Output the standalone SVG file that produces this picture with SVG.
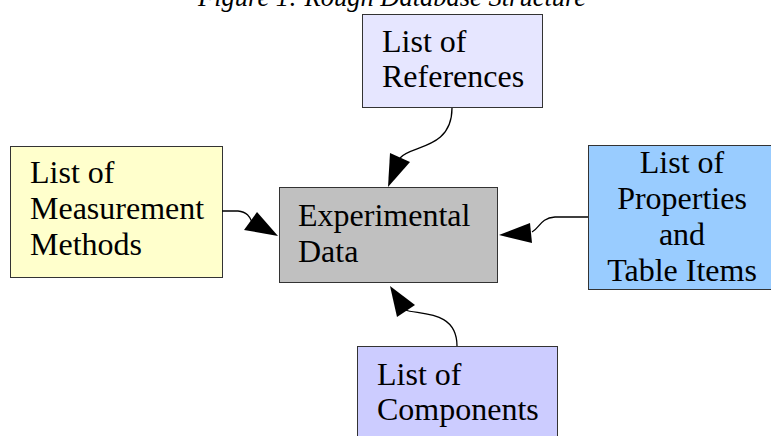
<svg xmlns="http://www.w3.org/2000/svg" width="771" height="436" viewBox="0 0 771 436">
<defs>
<style>
.box{stroke:#333;stroke-width:1}
.t{font-family:"Liberation Serif","Times New Roman",serif;font-size:32px;fill:#000}
.title{font-family:"Liberation Serif","Times New Roman",serif;font-size:26.5px;font-style:italic;fill:#000}
.c{fill:none;stroke:#000;stroke-width:1.3}
.h{fill:#000;stroke:none}
</style>
</defs>
<rect width="771" height="436" fill="#fff"/>
<text class="title" x="198" y="6">Figure 1: Rough Database Structure</text>
<g id="references">
<rect class="box" x="362.5" y="14.5" width="180" height="93" fill="#e6e6ff"/>
<text class="t" x="382" y="52">List of</text>
<text class="t" x="382" y="87">References</text>
</g>
<g id="methods">
<rect class="box" x="10.5" y="146.5" width="212" height="131" fill="#ffffcc"/>
<text class="t" x="30" y="183">List of</text>
<text class="t" x="30" y="219">Measurement</text>
<text class="t" x="30" y="255">Methods</text>
</g>
<g id="experimental">
<rect class="box" x="279.5" y="187.5" width="218" height="95" fill="#c0c0c0"/>
<text class="t" x="298" y="226">Experimental</text>
<text class="t" x="298" y="262">Data</text>
</g>
<g id="properties">
<rect class="box" x="588.5" y="145.5" width="190" height="144" fill="#99ccff"/>
<text class="t" x="682" y="173" text-anchor="middle">List of</text>
<text class="t" x="682" y="209" text-anchor="middle">Properties</text>
<text class="t" x="682" y="245" text-anchor="middle">and</text>
<text class="t" x="682" y="281" text-anchor="middle">Table Items</text>
</g>
<g id="components">
<rect class="box" x="357.5" y="346.5" width="200" height="100" fill="#ccccff"/>
<text class="t" x="377" y="385">List of</text>
<text class="t" x="377" y="420">Components</text>
</g>
<g id="connectors">
<path class="c" d="M452,108 C452,150 410,145 400,158"/>
<polygon class="h" points="388,187 390,153 410,162"/>
<path class="c" d="M588,217 L555,217 C540,218 540,228 532,232"/>
<polygon class="h" points="499,235 530,223 532,243"/>
<path class="c" d="M222,211 L238,211 C248,212 250,218 252,222"/>
<polygon class="h" points="278,236 244,230 257,212"/>
<path class="c" d="M457,346 C457,310 420,315 405,310"/>
<polygon class="h" points="390,286 397,317 415,305"/>
</g>
</svg>
